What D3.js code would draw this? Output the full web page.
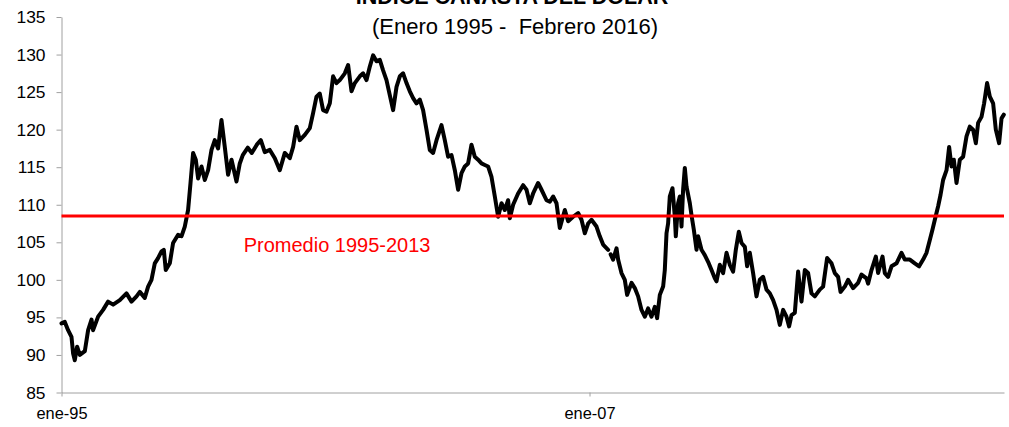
<!DOCTYPE html>
<html>
<head>
<meta charset="utf-8">
<script src="https://cdn.jsdelivr.net/npm/d3@7"></script>
<style>
  body { margin: 0; background: #fff; }
  svg { display: block; }
</style>
</head>
<body>
<div id="chart"></div>
<script>
// decimal years (position of each reading) and index values
const years = [
  1995.000, 1995.075, 1995.150, 1995.227, 1995.264, 1995.302, 1995.355, 1995.416, 1995.530, 1995.605,
  1995.682, 1995.718, 1995.832, 1995.945, 1996.059, 1996.173, 1996.325, 1996.477, 1996.591, 1996.705,
  1996.780, 1996.893, 1996.968, 1997.045, 1997.120, 1997.195, 1997.273, 1997.325, 1997.370, 1997.461,
  1997.536, 1997.650, 1997.727, 1997.802, 1997.877, 1997.932, 1997.991, 1998.052, 1998.105, 1998.182,
  1998.257, 1998.332, 1998.409, 1998.484, 1998.559, 1998.636, 1998.711, 1998.786, 1998.864, 1998.977,
  1999.052, 1999.120, 1999.234, 1999.325, 1999.439, 1999.530, 1999.620, 1999.734, 1999.848, 1999.961,
  2000.075, 2000.189, 2000.264, 2000.341, 2000.416, 2000.530, 2000.643, 2000.718, 2000.795, 2000.870,
  2000.945, 2001.023, 2001.098, 2001.173, 2001.250, 2001.325, 2001.439, 2001.514, 2001.591, 2001.666,
  2001.780, 2001.855, 2001.932, 2002.007, 2002.082, 2002.159, 2002.234, 2002.309, 2002.386, 2002.461,
  2002.536, 2002.614, 2002.689, 2002.764, 2002.841, 2002.916, 2002.991, 2003.068, 2003.143, 2003.218,
  2003.295, 2003.370, 2003.445, 2003.523, 2003.636, 2003.711, 2003.786, 2003.864, 2003.939, 2004.014,
  2004.091, 2004.166, 2004.241, 2004.318, 2004.393, 2004.468, 2004.545, 2004.620, 2004.695, 2004.773,
  2004.848, 2004.923, 2005.000, 2005.075, 2005.150, 2005.189, 2005.264, 2005.377, 2005.491, 2005.568,
  2005.643, 2005.718, 2005.832, 2005.909, 2006.023, 2006.098, 2006.173, 2006.250, 2006.325, 2006.439,
  2006.514, 2006.627, 2006.741, 2006.818, 2006.893, 2006.968, 2007.045, 2007.159, 2007.234, 2007.309,
  2007.423, 2007.455, 2007.480, 2007.536, 2007.614, 2007.650, 2007.727, 2007.802, 2007.855, 2007.955, 2008.030,
  2008.105, 2008.182, 2008.257, 2008.332, 2008.409, 2008.484, 2008.536, 2008.598, 2008.673, 2008.711,
  2008.750, 2008.786, 2008.825, 2008.886, 2008.939, 2008.961, 2009.014, 2009.052, 2009.091, 2009.127,
  2009.166, 2009.205, 2009.280, 2009.318, 2009.370, 2009.432, 2009.468, 2009.545, 2009.620, 2009.695,
  2009.773, 2009.848, 2009.886, 2009.961, 2010.036, 2010.114, 2010.189, 2010.264, 2010.325, 2010.393,
  2010.455, 2010.530, 2010.582, 2010.643, 2010.718, 2010.795, 2010.870, 2010.945, 2011.023, 2011.098,
  2011.173, 2011.250, 2011.325, 2011.400, 2011.477, 2011.536, 2011.591, 2011.666, 2011.741, 2011.818,
  2011.893, 2011.968, 2012.045, 2012.120, 2012.234, 2012.309, 2012.400, 2012.500, 2012.575, 2012.650,
  2012.705, 2012.802, 2012.877, 2012.991, 2013.105, 2013.182, 2013.295, 2013.332, 2013.409, 2013.507,
  2013.559, 2013.659, 2013.711, 2013.786, 2013.864, 2013.977, 2014.091, 2014.166, 2014.280, 2014.393,
  2014.491, 2014.582, 2014.659, 2014.734, 2014.795, 2014.848, 2014.923, 2014.977, 2015.036, 2015.114,
  2015.173, 2015.227, 2015.280, 2015.341, 2015.416, 2015.491, 2015.568, 2015.643, 2015.718, 2015.780,
  2015.832, 2015.909, 2015.968, 2016.036, 2016.098, 2016.173, 2016.234, 2016.309, 2016.364, 2016.416
]

// null = missing readings (break in the line)
const values = [
  94.2, 94.4, 93.3, 92.4, 90.2, 89.3, 91.1, 90.0, 90.5, 93.3,
  94.7, 93.3, 95.1, 96.0, 97.1, 96.7, 97.3, 98.2, 97.1, 97.8,
  98.4, 97.6, 99.1, 100.0, 102.2, 102.9, 103.8, 104.0, 101.3, 102.2,
  104.9, 106.0, 105.8, 107.1, 109.3, 112.9, 116.9, 116.0, 113.5, 115.1,
  113.3, 114.6, 117.3, 118.6, 117.5, 121.3, 117.7, 114.0, 116.0, 113.1,
  115.5, 116.6, 117.6, 116.9, 118.0, 118.6, 117.0, 117.3, 116.2, 114.6,
  116.9, 116.2, 117.7, 120.4, 118.6, 119.3, 120.2, 122.2, 124.4, 124.8,
  122.6, 122.4, 123.5, 127.1, 126.2, 126.6, 127.5, 128.6, 125.1, 126.2,
  127.1, 127.5, 126.6, 128.4, 129.9, 129.1, 129.3, 127.9, 126.6, 124.6,
  122.6, 125.7, 127.1, 127.5, 126.2, 125.1, 124.2, 123.5, 124.0, 122.6,
  120.0, 117.3, 116.9, 118.6, 120.6, 118.6, 116.4, 116.6, 114.6, 112.0,
  114.2, 115.1, 115.5, 118.0, 116.4, 116.0, 115.5, 115.3, 115.1, 113.7,
  111.1, 108.4, 110.2, 109.3, 110.6, 108.2, 110.0, 111.5, 112.6, 112.0,
  110.2, 111.5, 112.9, 112.0, 110.6, 110.4, 111.1, 110.2, 106.9, 109.3,
  107.8, 108.4, 108.9, 108.0, 106.2, 107.5, 108.0, 107.1, 105.8, 104.7,
  104.0, null, 103.4, 102.7, 104.2, 102.7, 100.9, 100.0, 98.0, 99.6, 98.9,
  97.8, 96.0, 95.1, 96.2, 95.1, 96.4, 94.9, 98.0, 99.1, 101.3,
  106.2, 107.5, 111.1, 112.2, 108.4, 105.8, 110.2, 111.1, 107.1, 112.0,
  114.9, 112.4, 110.2, 108.6, 106.7, 104.0, 105.8, 104.0, 103.3, 102.4,
  101.3, 100.2, 99.8, 102.0, 100.9, 103.6, 102.0, 101.1, 104.0, 106.4,
  104.9, 104.4, 101.8, 103.6, 100.9, 97.8, 100.0, 100.4, 98.7, 98.2,
  97.3, 96.0, 94.0, 96.0, 95.1, 93.8, 95.3, 95.6, 101.1, 97.1,
  101.3, 100.9, 98.2, 97.8, 98.7, 99.1, 102.9, 102.2, 100.9, 100.4,
  98.4, 99.1, 100.0, 98.9, 99.6, 100.7, 100.2, 99.5, 101.3, 103.1,
  100.9, 103.1, 100.9, 100.4, 101.8, 102.2, 103.6, 102.7, 102.7, 102.2,
  101.8, 102.7, 103.6, 105.3, 106.7, 108.0, 109.8, 111.3, 113.3, 114.6,
  117.7, 115.1, 116.0, 112.9, 116.0, 116.4, 119.1, 120.4, 120.0, 118.2,
  120.9, 121.7, 123.5, 126.2, 124.4, 123.5, 120.0, 118.2, 121.5, 122.0
]

const average = 108.5
const averageLabel = "Promedio 1995-2013"
const yTicks = [85, 90, 95, 100, 105, 110, 115, 120, 125, 130, 135]
const xTicks = [1995, 2007]
const xTickLabels = ["ene-95", "ene-07"]
const title = "INDICE CANASTA DEL DOLAR"
const subtitle = "(Enero 1995 -  Febrero 2016)"

const width = 1009
const height = 427
const margin = { top: 17, right: 5, bottom: 34.5, left: 61.5 }
const font = "Arial, 'Liberation Sans', sans-serif"

const data = years.map((y, i) => ({ year: y, value: values[i] }))

const svg = d3.select("#chart")
  .append("svg")
  .attr("width", width)
  .attr("height", height)

const x = d3.scaleLinear()
  .domain([1995, 2016.42])
  .range([margin.left, width - margin.right])

const y = d3.scaleLinear()
  .domain([85, 135])
  .range([height - margin.bottom, margin.top])

// y axis
const yAxis = svg.append("g")
  .attr("transform", "translate(" + margin.left + ",0)")
  .call(d3.axisLeft(y).tickValues(yTicks).tickSize(5).tickSizeOuter(0).tickPadding(11))
yAxis.select(".domain").attr("stroke", "#a0a0a0")
yAxis.selectAll(".tick line").attr("stroke", "#a0a0a0")
yAxis.selectAll("text")
  .style("font-family", font)
  .style("font-size", "17.4px")
  .attr("fill", "#000")

// x axis
const xAxis = svg.append("g")
  .attr("transform", "translate(0," + (height - margin.bottom) + ")")
  .call(d3.axisBottom(x).tickValues(xTicks).tickSize(4).tickSizeOuter(0)
    .tickFormat((d, i) => xTickLabels[i]))
xAxis.select(".domain").attr("stroke", "#a0a0a0")
xAxis.selectAll(".tick line").attr("stroke", "#a0a0a0")
xAxis.selectAll("text")
  .attr("y", 26.5)
  .attr("dy", 0)
  .style("font-family", font)
  .style("font-size", "16.4px")
  .attr("fill", "#000")

// the series
const line = d3.line()
  .defined(d => d.value !== null)
  .x(d => x(d.year))
  .y(d => y(d.value))

svg.append("path")
  .datum(data)
  .attr("fill", "none")
  .attr("stroke", "#000")
  .attr("stroke-width", 4)
  .attr("stroke-linejoin", "round")
  .attr("stroke-linecap", "round")
  .attr("d", line)

// average line
svg.append("line")
  .attr("x1", x(1995))
  .attr("x2", x(2016.42))
  .attr("y1", y(average))
  .attr("y2", y(average))
  .attr("stroke", "#ff0000")
  .attr("stroke-width", 2.8)

svg.append("text")
  .attr("x", x(1999.14))
  .attr("y", y(average) + 36)
  .attr("fill", "#ff0000")
  .style("font-family", font)
  .style("font-size", "20px")
  .text(averageLabel)

// titles (the bold title is cut by the top edge, as in the original)
svg.append("text")
  .attr("x", 512)
  .attr("y", 3.5)
  .attr("text-anchor", "middle")
  .style("font-family", font)
  .style("font-size", "21.5px")
  .style("font-weight", "bold")
  .text(title)

svg.append("text")
  .attr("x", 515)
  .attr("y", 34)
  .attr("text-anchor", "middle")
  .style("font-family", font)
  .style("font-size", "22px")
  .style("white-space", "pre")
  .attr("xml:space", "preserve")
  .text(subtitle)
</script>
</body>
</html>
